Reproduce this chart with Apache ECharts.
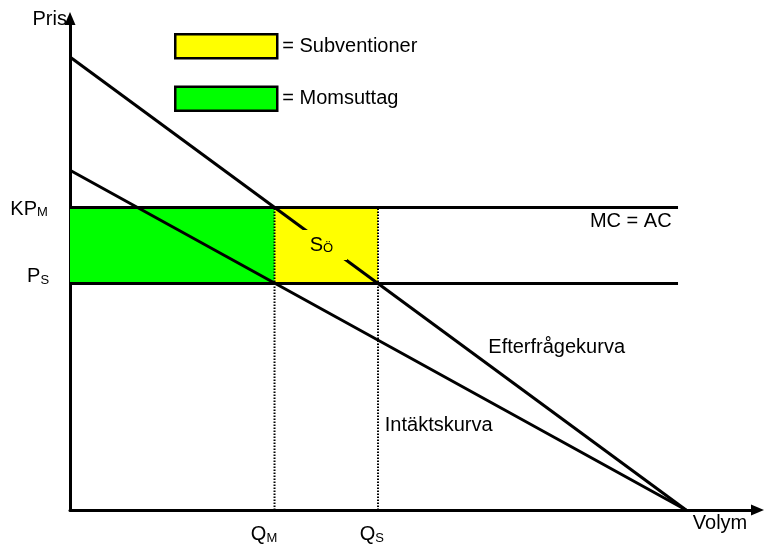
<!DOCTYPE html>
<html>
<head>
<meta charset="utf-8">
<script src="https://cdn.jsdelivr.net/npm/echarts@6/dist/echarts.min.js"></script>
<style>
  html, body { margin: 0; padding: 0; background: #fff; }
  #main { width: 764px; height: 545px; }
</style>
</head>
<body>
<div id="main"></div>
<script>
// axis ranges (abstract units, volym 0..100 where demand hits zero)
var XMAX = 111.6;
var YMAX = 108.5;

// price levels and quantities
var KPM = 66.8;   // konsumentpris med moms
var PS = 50;      // pris med subvention
var QM = 100 - KPM;
var QS = 50;
var LINE_END = 98.7;

// curves: [volym, pris]
var efterfragan = [[0, 100], [100, 0]];
var intakt = [[0, 75], [100, 0]];
var mcLine = [[0, KPM], [LINE_END, KPM]];
var psLine = [[0, PS], [LINE_END, PS]];
var qmLine = [[QM, 0], [QM, KPM]];
var qsLine = [[QS, 0], [QS, KPM]];

var FONT = 'Liberation Sans, Arial, sans-serif';

// text labels on the diagram
var texter = [
    { value: [-0.5, 108.2], text: 'Pris', pos: 'left' },
    { value: [101.1, -2.9], text: 'Volym', pos: 'right' },
    { value: [-3.6, 66.4], text: '{m|KP}{s|M}', pos: 'left' },
    { value: [-3.4, 51.5], text: '{m|P}{s|S}', pos: 'left' },
    { value: [31.5, -5.5], text: '{m|Q}{s|M}', pos: 'inside' },
    { value: [49.0, -5.5], text: '{m|Q}{s|S}', pos: 'inside' },
    { value: [84.4, 63.8], text: 'MC = AC', pos: 'right' },
    { value: [67.9, 35.8], text: 'Efterfrågekurva', pos: 'right' },
    { value: [51.1, 18.7], text: 'Intäktskurva', pos: 'right' }
];

var rich = {
    m: { fontSize: 20, fontFamily: FONT, color: '#000', verticalAlign: 'bottom' },
    s: { fontSize: 13, fontFamily: FONT, color: '#000', verticalAlign: 'bottom' }
};

function linje(data, extra) {
    var s = {
        type: 'line',
        data: data,
        symbol: 'none',
        silent: true,
        z: 3,
        lineStyle: { color: '#000', width: 3 }
    };
    for (var k in extra) s[k] = extra[k];
    return s;
}

var myChart = echarts.init(document.getElementById('main'));

myChart.setOption({
    animation: false,
    backgroundColor: '#fff',
    grid: { left: 70, right: 6.5, top: 18.5, bottom: 35 },
    xAxis: {
        type: 'value',
        min: 0,
        max: XMAX,
        axisLine: {
            show: true,
            symbol: ['none', 'triangle'],
            symbolSize: [11, 13],
            lineStyle: { color: '#000', width: 3 }
        },
        axisTick: { show: false },
        axisLabel: { show: false },
        splitLine: { show: false }
    },
    yAxis: {
        type: 'value',
        min: 0,
        max: YMAX,
        axisLine: {
            show: true,
            symbol: ['none', 'triangle'],
            symbolSize: [11, 13],
            lineStyle: { color: '#000', width: 3 }
        },
        axisTick: { show: false },
        axisLabel: { show: false },
        splitLine: { show: false }
    },
    legend: {
        orient: 'vertical',
        left: 174,
        top: 33,
        padding: 0,
        itemWidth: 102,
        itemHeight: 24,
        itemGap: 26,
        selectedMode: false,
        textStyle: { fontSize: 20, fontFamily: FONT, color: '#000' },
        data: [
            { name: '= Subventioner', icon: 'rect', itemStyle: { color: '#ffff00', borderColor: '#000', borderWidth: 2.5 } },
            { name: '= Momsuttag', icon: 'rect', itemStyle: { color: '#00ff00', borderColor: '#000', borderWidth: 2.5 } }
        ]
    },
    series: [
        {
            name: '= Subventioner',
            type: 'line',
            data: [],
            itemStyle: { color: '#ffff00' },
            markArea: {
                silent: true,
                itemStyle: { color: '#ffff00', opacity: 1 },
                data: [[{ coord: [QM, PS] }, { coord: [QS, KPM] }]]
            }
        },
        {
            name: '= Momsuttag',
            type: 'line',
            data: [],
            itemStyle: { color: '#00ff00' },
            markArea: {
                silent: true,
                itemStyle: { color: '#00ff00', opacity: 1 },
                data: [[{ coord: [0, PS] }, { coord: [QM, KPM] }]]
            }
        },
        linje(qmLine, { lineStyle: { color: '#000', width: 2, type: [1.5, 1.5] } }),
        linje(qsLine, { lineStyle: { color: '#000', width: 2, type: [1.5, 1.5] } }),
        linje(mcLine),
        linje(psLine),
        linje(efterfragan),
        linje(intakt),
        {
            type: 'scatter',
            symbolSize: 0,
            silent: true,
            clip: false,
            z: 10,
            itemStyle: { opacity: 1 },
            data: texter.map(function (t) {
                return {
                    value: t.value,
                    label: {
                        show: true,
                        position: t.pos,
                        distance: 0,
                        formatter: t.text,
                        fontSize: 20,
                        fontFamily: FONT,
                        color: '#000',
                        rich: rich
                    }
                };
            })
        },
        {
            // S_Ö label sits on the yellow area and hides the demand line
            type: 'scatter',
            symbolSize: 0,
            silent: true,
            clip: false,
            z: 10,
            itemStyle: { opacity: 1 },
            data: [{
                value: [37.6, 58.5],
                label: {
                    show: true,
                    position: 'right',
                    distance: 0,
                    formatter: '{m|S}{s|Ö}',
                    backgroundColor: '#ffff00',
                    padding: [5, 14, 5, 8],
                    rich: rich
                }
            }]
        }
    ]
});
</script>
</body>
</html>
